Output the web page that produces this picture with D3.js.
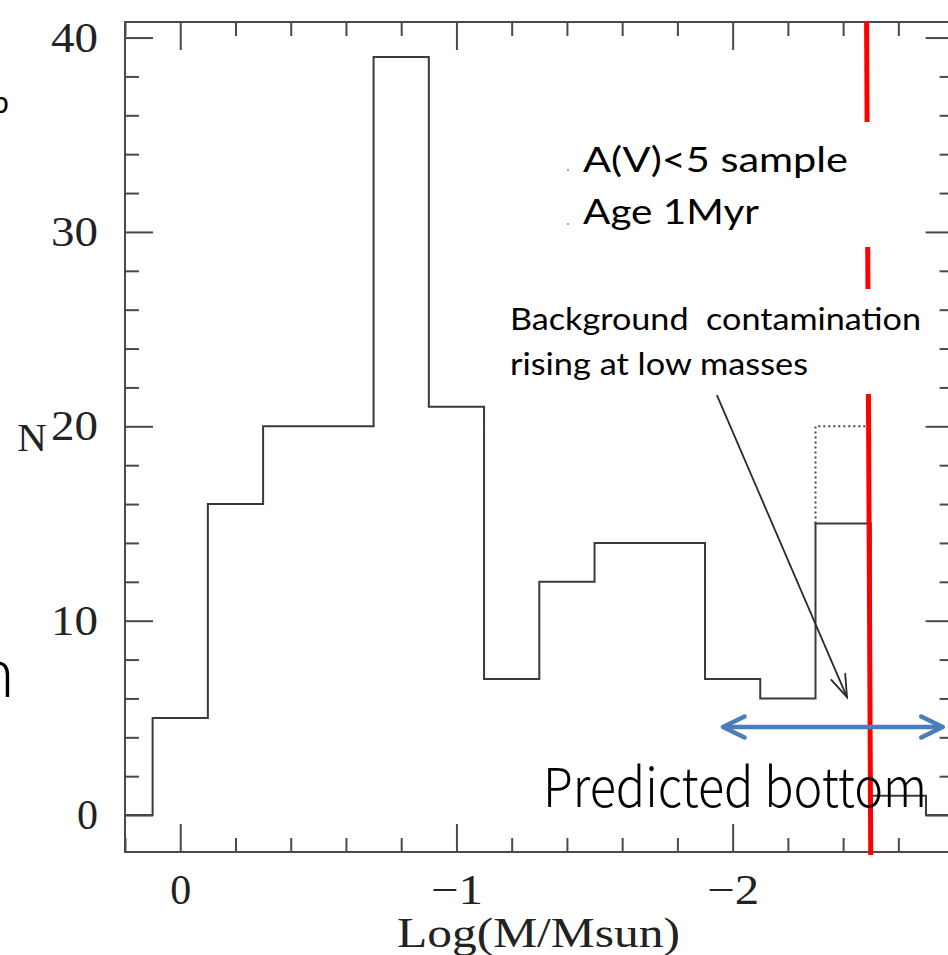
<!DOCTYPE html>
<html>
<head>
<meta charset="utf-8">
<script src="https://cdn.jsdelivr.net/npm/d3@7"></script>
<style>
	html, body { margin: 0; padding: 0; background: #fff; overflow: hidden; }
	svg { display: block; }
</style>
</head>
<body>
<div id="chart"></div>
<script>
(function () {
	'use strict';

	// histogram of log mass, bins of 0.2 dex (axis runs from high to low mass)
	var binEdges = [0.1, -0.1, -0.3, -0.5, -0.7, -0.9, -1.1, -1.3, -1.5, -1.7, -1.9, -2.1, -2.3, -2.5, -2.7];
	var counts = [5, 16, 20, 20, 39, 21, 7, 12, 14, 14, 7, 6, 15, 1];
	// dotted bin (before background correction)
	var dottedBin = [-2.3, -2.5];
	var dottedCount = 20;
	var dottedBase = 15;

	var xMajorTicks = [0, -1, -2];
	var xMinorTicks = [0.2, -0.2, -0.4, -0.6, -0.8, -1.2, -1.4, -1.6, -1.8, -2.2, -2.4, -2.6, -2.8];
	var yMajorTicks = [0, 10, 20, 30, 40];
	var yMinorTicks = [2, 4, 6, 8, 12, 14, 16, 18, 22, 24, 26, 28, 32, 34, 36, 38];

	var xDomain = [0.2, -2.8];
	var yDomain = [-1.9, 40.8];

	// annotation positions in data units
	var cutoff = [-2.485, -2.5];
	var bgArrow = [[-1.943, 21.6], [-2.414, 6.07]];
	var bottomArrow = [[-1.965, 4.53], [-2.761, 4.53]];

	var width = 948, height = 955;
	var left = 125, right = 953.6, top = 22, bottom = 852;

	var svg = d3.select('#chart').append('svg:svg')
		.attr('width', width)
		.attr('height', height)
		.style('background-color', '#fff');

	var x = d3.scaleLinear().domain(xDomain).range([left, right]);
	var y = d3.scaleLinear().domain(yDomain).range([bottom, top]);

	var axisColor = '#4a4a4a';
	var serif = '"Liberation Serif", "DejaVu Serif", serif';

	// step outline
	var pts = [{ x: xDomain[0], y: 0 }];
	binEdges.forEach(function (e, i) {
		pts.push({ x: e, y: i < counts.length ? counts[i] : 0 });
	});
	pts.push({ x: xDomain[1], y: 0 });

	var step = d3.line()
		.x(function (d) { return x(d.x); })
		.y(function (d) { return y(d.y); })
		.curve(d3.curveStepAfter);

	svg.append('path')
		.attr('d', step(pts))
		.attr('fill', 'none')
		.attr('stroke', '#3a3a3a')
		.attr('stroke-width', 2);

	svg.append('path')
		.attr('d', d3.line()([
			[x(dottedBin[0]), y(dottedBase)],
			[x(dottedBin[0]), y(dottedCount)],
			[x(dottedBin[1]), y(dottedCount)]
		]))
		.attr('fill', 'none')
		.attr('stroke', '#444')
		.attr('stroke-width', 2)
		.attr('stroke-dasharray', '2,3');

	// axes (ticks point inward, labels only bottom/left)
	function styleAxis(g) {
		g.select('.domain').remove();
		g.selectAll('.tick line').attr('stroke', axisColor).attr('stroke-width', 2);
		g.selectAll('.tick text')
			.attr('fill', '#222')
			.style('font-family', serif)
			.style('font-size', '42px')
			.attr('lengthAdjust', 'spacingAndGlyphs')
			.attr('textLength', function () {
				var s = d3.select(this).text();
				return s.length > 1 ? (s.charAt(0) === '\u2212' ? 52 : 47) : null;
			});
	}

	svg.append('g').attr('transform', 'translate(0,' + bottom + ')')
		.call(d3.axisBottom(x).tickValues(xMajorTicks).tickSize(-28).tickPadding(22).tickFormat(d3.format('d')))
		.call(styleAxis);
	svg.append('g').attr('transform', 'translate(0,' + bottom + ')')
		.call(d3.axisBottom(x).tickValues(xMinorTicks).tickSize(-14).tickFormat(''))
		.call(styleAxis);
	svg.append('g').attr('transform', 'translate(0,' + top + ')')
		.call(d3.axisTop(x).tickValues(xMajorTicks).tickSize(-28).tickFormat(''))
		.call(styleAxis);
	svg.append('g').attr('transform', 'translate(0,' + top + ')')
		.call(d3.axisTop(x).tickValues(xMinorTicks).tickSize(-14).tickFormat(''))
		.call(styleAxis);

	svg.append('g').attr('transform', 'translate(' + left + ',0)')
		.call(d3.axisLeft(y).tickValues(yMajorTicks).tickSize(-28).tickPadding(27).tickFormat(d3.format('d')))
		.call(styleAxis);
	svg.append('g').attr('transform', 'translate(' + left + ',0)')
		.call(d3.axisLeft(y).tickValues(yMinorTicks).tickSize(-14).tickFormat(''))
		.call(styleAxis);
	svg.append('g').attr('transform', 'translate(' + right + ',0)')
		.call(d3.axisRight(y).tickValues(yMajorTicks).tickSize(-28).tickFormat(''))
		.call(styleAxis);
	svg.append('g').attr('transform', 'translate(' + right + ',0)')
		.call(d3.axisRight(y).tickValues(yMinorTicks).tickSize(-14).tickFormat(''))
		.call(styleAxis);

	svg.append('rect')
		.attr('x', left).attr('y', top)
		.attr('width', right - left).attr('height', bottom - top)
		.attr('fill', 'none')
		.attr('stroke', axisColor)
		.attr('stroke-width', 2);

	// axis titles
	svg.append('text')
		.attr('x', 397).attr('y', 947)
		.attr('textLength', 283).attr('lengthAdjust', 'spacingAndGlyphs')
		.style('font-family', serif).style('font-size', '43px').attr('fill', '#222')
		.text('Log(M/Msun)');
	svg.append('text')
		.attr('x', 32).attr('y', 451)
		.attr('text-anchor', 'middle')
		.style('font-family', serif).style('font-size', '41px').attr('fill', '#222')
		.text('N');

	// red cut-off line
	svg.append('line')
		.attr('x1', x(cutoff[0])).attr('y1', top)
		.attr('x2', x(cutoff[1])).attr('y2', bottom + 3)
		.attr('stroke', '#ff0000')
		.attr('stroke-width', 5);

	// white text boxes sitting on top of the red line
	svg.append('rect').attr('x', 555).attr('y', 122).attr('width', 330).attr('height', 125).attr('fill', '#fff');
	svg.append('rect').attr('x', 500).attr('y', 289).attr('width', 422).attr('height', 105).attr('fill', '#fff');

	var sans = 'Lato, "Open Sans", sans-serif';
	svg.append('text').attr('x', 583).attr('y', 172)
		.attr('textLength', 265).attr('lengthAdjust', 'spacingAndGlyphs')
		.style('font-family', sans).style('font-size', '35px').attr('fill', '#000')
		.text('A(V)<5 sample');
	svg.append('text').attr('x', 583).attr('y', 224)
		.attr('textLength', 176).attr('lengthAdjust', 'spacingAndGlyphs')
		.style('font-family', sans).style('font-size', '35px').attr('fill', '#000')
		.text('Age 1Myr');
	svg.selectAll('circle.bullet').data([170, 224]).enter().append('circle')
		.attr('class', 'bullet')
		.attr('cx', 568).attr('cy', function (d) { return d; })
		.attr('r', 1).attr('fill', '#888');

	svg.append('text').attr('x', 510).attr('y', 330)
		.attr('textLength', 411).attr('lengthAdjust', 'spacingAndGlyphs')
		.style('font-family', sans).style('font-size', '30px').style('white-space', 'pre').attr('fill', '#000')
		.text('Background  contamination');
	svg.append('text').attr('x', 510).attr('y', 375)
		.attr('textLength', 298).attr('lengthAdjust', 'spacingAndGlyphs')
		.style('font-family', sans).style('font-size', '30px').attr('fill', '#000')
		.text('rising at low masses');

	// open arrowhead helper
	function arrowHead(tip, from, len, spread) {
		var a = Math.atan2(tip[1] - from[1], tip[0] - from[0]);
		return d3.line()([
			[tip[0] - len * Math.cos(a - spread), tip[1] - len * Math.sin(a - spread)],
			tip,
			[tip[0] - len * Math.cos(a + spread), tip[1] - len * Math.sin(a + spread)]
		]);
	}

	var b0 = [x(bgArrow[0][0]), y(bgArrow[0][1])];
	var b1 = [x(bgArrow[1][0]), y(bgArrow[1][1])];
	svg.append('line')
		.attr('x1', b0[0]).attr('y1', b0[1]).attr('x2', b1[0]).attr('y2', b1[1])
		.attr('stroke', '#2a2a2a').attr('stroke-width', 1.8);
	svg.append('path')
		.attr('d', arrowHead(b1, b0, 24, 0.33))
		.attr('fill', 'none').attr('stroke', '#2a2a2a').attr('stroke-width', 1.8);

	svg.append('text').attr('x', 543).attr('y', 807)
		.attr('textLength', 384).attr('lengthAdjust', 'spacingAndGlyphs')
		.style('font-family', '"Noto Sans CJK JP", "Noto Sans", sans-serif')
		.style('font-weight', 300).style('font-size', '54px').attr('fill', '#000')
		.text('Predicted bottom');

	// blue double arrow
	var p0 = [x(bottomArrow[0][0]), y(bottomArrow[0][1])];
	var p1 = [x(bottomArrow[1][0]), y(bottomArrow[1][1])];
	var blue = '#4a7ebb';
	svg.append('line')
		.attr('x1', p0[0] + 2).attr('y1', p0[1]).attr('x2', p1[0] - 2).attr('y2', p1[1])
		.attr('stroke', blue).attr('stroke-width', 4.5);
	[[p0, p1], [p1, p0]].forEach(function (pr) {
		svg.append('path')
			.attr('d', arrowHead(pr[0], pr[1], 24, 0.45))
			.attr('fill', 'none').attr('stroke', blue)
			.attr('stroke-width', 4.5).attr('stroke-linecap', 'round').attr('stroke-linejoin', 'round');
	});

	// fragments of neighbouring slide text cut off at the left edge
	svg.append('text').attr('x', -8).attr('y', 113)
		.style('font-family', sans).style('font-size', '30px').attr('fill', '#000')
		.text('b');
	svg.append('text').attr('x', -24).attr('y', 697)
		.style('font-family', sans).style('font-size', '70px').style('font-weight', 300).attr('fill', '#000')
		.text('n');
}());
</script>
</body>
</html>
